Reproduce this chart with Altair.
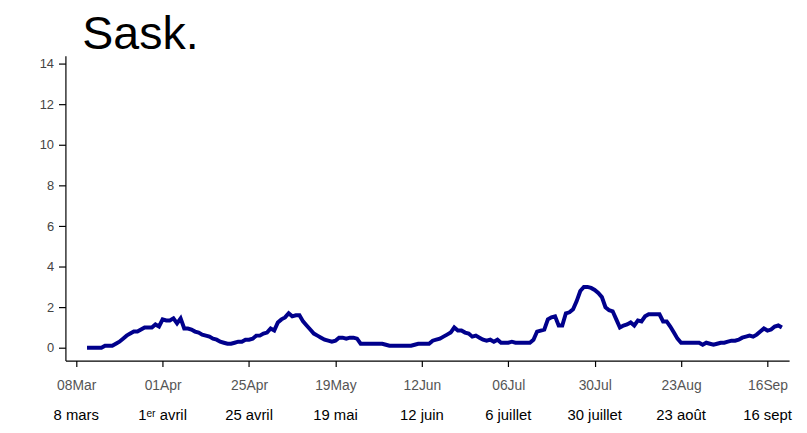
import altair as alt
import pandas as pd

start_date = "2020-03-11"
values = [
    0.0, 0.0, 0.0, 0.0, 0.0, 0.1, 0.1, 0.1, 0.2, 0.3, 0.45, 0.6, 0.7, 0.8, 0.8, 0.9,
    1.0, 1.0, 1.0, 1.15, 1.05, 1.4, 1.35, 1.35, 1.45, 1.2, 1.45, 0.95, 0.95, 0.9,
    0.8, 0.75, 0.65, 0.6, 0.55, 0.45, 0.4, 0.3, 0.25, 0.2, 0.2, 0.25, 0.3, 0.3,
    0.4, 0.4, 0.45, 0.6, 0.6, 0.7, 0.75, 0.95, 0.85, 1.25, 1.4, 1.5, 1.7, 1.55,
    1.6, 1.6, 1.3, 1.1, 0.9, 0.7, 0.6, 0.5, 0.4, 0.35, 0.3, 0.35, 0.5, 0.5, 0.45,
    0.5, 0.5, 0.45, 0.2, 0.2, 0.2, 0.2, 0.2, 0.2, 0.2, 0.15, 0.1, 0.1, 0.1, 0.1,
    0.1, 0.1, 0.1, 0.15, 0.2, 0.2, 0.2, 0.2, 0.35, 0.4, 0.45, 0.55, 0.65, 0.75,
    1.0, 0.85, 0.85, 0.75, 0.7, 0.55, 0.6, 0.5, 0.4, 0.35, 0.4, 0.3, 0.4, 0.25,
    0.25, 0.25, 0.3, 0.25, 0.25, 0.25, 0.25, 0.25, 0.4, 0.8, 0.85, 0.9, 1.4, 1.5,
    1.55, 1.1, 1.1, 1.7, 1.75, 1.9, 2.3, 2.8, 3.0, 3.0, 2.95, 2.85, 2.7, 2.5, 2.0,
    1.85, 1.8, 1.4, 1.0, 1.1, 1.15, 1.25, 1.1, 1.35, 1.3, 1.55, 1.65, 1.65, 1.65,
    1.65, 1.3, 1.3, 1.05, 0.75, 0.45, 0.25, 0.25, 0.25, 0.25, 0.25, 0.25, 0.15,
    0.25, 0.2, 0.15, 0.2, 0.25, 0.25, 0.3, 0.35, 0.35, 0.4, 0.5, 0.55, 0.6, 0.55,
    0.65, 0.8, 0.95, 0.85, 0.9, 1.05, 1.1, 1.0,
]

tick_dates = ["2020-03-08", "2020-04-01", "2020-04-25", "2020-05-19", "2020-06-12",
              "2020-07-06", "2020-07-30", "2020-08-23", "2020-09-16"]
fr_labels = ["8 mars", "1ᵉʳ avril", "25 avril", "19 mai", "12 juin",
             "6 juillet", "30 juillet", "23 août", "16 sept"]
y_ticks = [0, 2, 4, 6, 8, 10, 12, 14]

df = pd.DataFrame({
    "date": pd.date_range(start_date, periods=len(values), freq="D").strftime("%Y-%m-%d"),
    "value": values,
})
lab = pd.DataFrame({"date": tick_dates, "fr": fr_labels})

def dt(s):
    y, m, d = map(int, s.split("-"))
    return alt.DateTime(year=y, month=m, date=d, utc=True)

xscale = alt.Scale(type="utc", domain=[dt("2020-03-05"), dt("2020-09-22")])

line = alt.Chart(df).mark_line(color="#00008c", strokeWidth=4).encode(
    x=alt.X("date:T", scale=xscale, title=None,
            axis=alt.Axis(values=[dt(d) for d in tick_dates], format="%d%b",
                          grid=False, domainColor="#000", domainWidth=1.2,
                          tickColor="#000", tickSize=6, tickWidth=1.2,
                          labelFont="Liberation Sans", labelFontSize=14,
                          labelColor="#555", labelPadding=12, labelFlush=False)),
    y=alt.Y("value:Q", scale=alt.Scale(domain=[-0.63, 14.4], nice=False, zero=False),
            title=None,
            axis=alt.Axis(values=y_ticks, grid=False, domainColor="#000", domainWidth=1.2,
                          tickColor="#000", tickSize=7, tickWidth=1.2,
                          labelFont="Liberation Sans", labelFontSize=13,
                          labelColor="#444", labelPadding=5)),
)

fr = alt.Chart(lab).mark_text(font="Liberation Sans", fontSize=15, color="#000",
                              fontWeight="normal", baseline="middle", align="center").encode(
    x=alt.X("date:T", scale=xscale),
    y=alt.value(363),
    text="fr:N",
)

chart = alt.layer(line, fr).properties(
    width=731, height=308,
    title=alt.TitleParams("Sask.", font="Liberation Sans", fontSize=47,
                          fontWeight="normal", anchor="start", frame="group",
                          dx=17, offset=-3, color="#000"),
    autosize=alt.AutoSizeParams(type="none"),
    padding={"left": 58, "top": 46, "right": 10, "bottom": 70},
).configure_view(stroke=None)

chart.save("out.html", embed_options={"renderer": "svg", "actions": False})
